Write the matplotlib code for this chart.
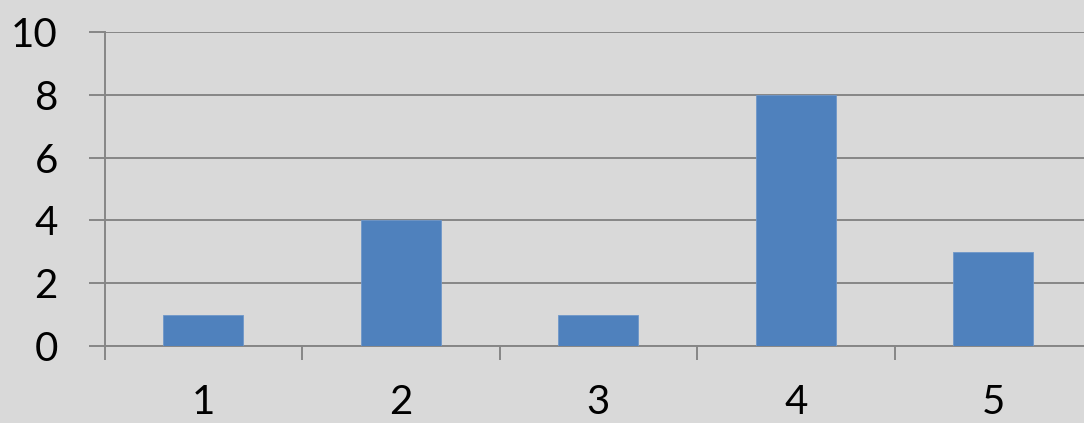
import matplotlib
matplotlib.use("Agg")
import matplotlib.pyplot as plt

categories = ["1", "2", "3", "4", "5"]
values = [1, 4, 1, 8, 3]
y_ticks = [0, 2, 4, 6, 8, 10]

BG = "#d9d9d9"
BAR = "#4f81bd"
LINE = "#868686"

plt.rcParams["font.family"] = ["Lato", "DejaVu Sans"]

fig = plt.figure(figsize=(10.84, 4.23), dpi=100, facecolor=BG)
# plot area runs a bit past the right edge of the figure
ax = fig.add_axes([104.5 / 1084, 77 / 423, 987.5 / 1084, 314 / 423])
ax.set_facecolor(BG)

x = list(range(1, len(categories) + 1))
ax.bar(x, values, width=0.405, color=BAR, edgecolor="#6f97c9", linewidth=0.6, zorder=3)

ax.set_xlim(0.5, len(categories) + 0.5)
ax.set_ylim(0, 10)
ax.set_yticks(y_ticks)
ax.set_yticklabels([str(v) for v in y_ticks])
ax.set_xticks(x)
ax.set_xticklabels(categories)
ax.set_xticks([i + 0.5 for i in range(len(categories) + 1)], minor=True)

ax.yaxis.grid(True, color=LINE, linewidth=1.4, zorder=1)
for side in ("top", "right"):
    ax.spines[side].set_visible(False)
for side in ("left", "bottom"):
    ax.spines[side].set_color(LINE)
    ax.spines[side].set_linewidth(1.4)

ax.tick_params(axis="y", length=11.5, width=1.4, color=LINE, pad=22,
               labelsize=29, labelcolor="black")
ax.tick_params(axis="x", which="major", length=0, pad=27,
               labelsize=29, labelcolor="black")
ax.tick_params(axis="x", which="minor", length=10, width=1.4, color=LINE)

fig.savefig("out.png", dpi=100, facecolor=BG)
